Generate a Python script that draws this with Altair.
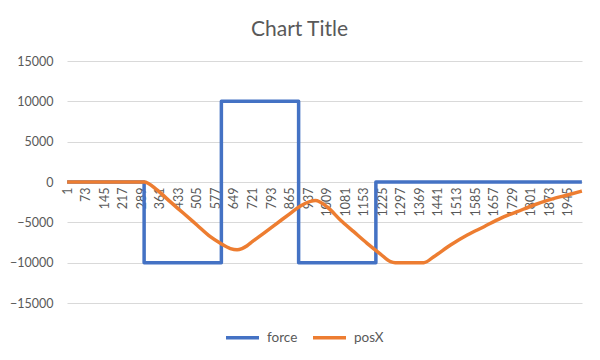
import altair as alt
import pandas as pd

# --- data ---
force_x = [1, 300, 300, 600, 600, 900, 900, 1200, 1200, 2000]
force_y = [0, 0, -10000, -10000, 10000, 10000, -10000, -10000, 0, 0]

pos_x = [1, 300, 350, 401, 453, 505, 557, 596, 635, 661, 680, 700, 720, 764, 816, 868,
         907, 946, 965, 1011, 1062, 1114, 1166, 1218, 1257, 1275, 1386, 1425, 1490,
         1555, 1620, 1684, 1749, 1814, 1879, 1944, 2000]
pos_y = [0, 0, -990, -2440, -3880, -5330, -6780, -7600, -8250, -8400, -8250, -7900, -7400,
         -6360, -5120, -3880, -2975, -2400, -2300, -3100, -4710, -6160, -7600, -8930,
         -9880, -10000, -10000, -9260, -7810, -6570, -5540, -4500, -3680, -2850,
         -2150, -1610, -1120]

x_ticks = list(range(1, 2000, 72))
y_ticks = [-15000, -10000, -5000, 0, 5000, 10000, 15000]
series = ["force", "posX"]
colors = ["#4472C4", "#ED7D31"]

rows = []
for i, (a, b) in enumerate(zip(force_x, force_y)):
    rows.append({"series": "force", "idx": i, "x": a, "y": b})
for i, (a, b) in enumerate(zip(pos_x, pos_y)):
    rows.append({"series": "posX", "idx": i, "x": a, "y": b})
df = pd.DataFrame(rows)

FONT = "Lato"
GRAY = "#595959"

base = alt.Chart(df).encode(
    x=alt.X("x:Q", scale=alt.Scale(domain=[0.5, 2000.5], nice=False, zero=False),
            axis=alt.Axis(values=x_ticks, title=None, labelAngle=270, offset=-121,
                          grid=False, domain=False, ticks=False, labelPadding=5,
                          labelColor=GRAY, labelFont=FONT, labelFontSize=12.5, format="d",
                          labelOverlap=False, labelAlign="right", labelBaseline="middle")),
    y=alt.Y("y:Q", scale=alt.Scale(domain=[-15000, 15000], nice=False),
            axis=alt.Axis(values=y_ticks, title=None, grid=True, gridColor="#D9D9D9",
                          domain=False, ticks=False, labelPadding=14, labelColor=GRAY,
                          labelFont=FONT, labelFontSize=12.5, format="d")),
    color=alt.Color("series:N", scale=alt.Scale(domain=series, range=colors),
                    legend=alt.Legend(title=None, orient="none", direction="horizontal",
                                      legendX=157, legendY=258, symbolType="stroke",
                                      symbolSize=1089, symbolStrokeWidth=3.5,
                                      labelOffset=6, columnPadding=8,
                                      labelFont=FONT, labelFontSize=13.5, labelColor=GRAY)),
    order="idx:Q",
)

force_layer = base.mark_line(strokeWidth=3.5, strokeJoin="round").transform_filter(
    alt.datum.series == "force")
pos_layer = base.mark_line(strokeWidth=3.5, strokeJoin="round", interpolate="monotone").transform_filter(
    alt.datum.series == "posX")

chart = alt.layer(force_layer, pos_layer).properties(
    width=515, height=242,
    title=alt.TitleParams(text="Chart Title", fontSize=21, font=FONT, color=GRAY,
                          fontWeight="normal", anchor="middle", dx=-25, offset=15),
    autosize=alt.AutoSizeParams(type="none"),
    padding={"left": 59, "top": 53, "right": 10, "bottom": 49},
).configure_view(stroke=None)

chart.save("out.html", embed_options={"renderer": "svg", "actions": False})
